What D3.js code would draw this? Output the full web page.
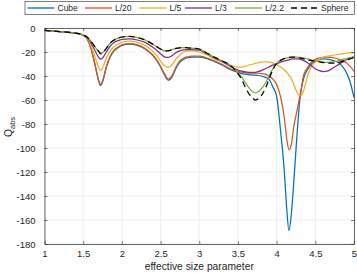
<!DOCTYPE html>
<html><head><meta charset="utf-8">
<script src="https://cdn.jsdelivr.net/npm/d3@7"></script>
<style>body{margin:0;background:#fff}svg{display:block}text{font-family:"Liberation Sans",Arial,sans-serif}</style>
</head><body><svg id="c" width="357" height="273"></svg>
<script>
const xs=[1.0,1.1,1.2,1.3,1.4, 1.5,1.55,1.6,1.65,1.7, 1.725,1.75,1.8,1.85,1.9, 1.95,2.0,2.1,2.2,2.3, 2.4,2.45,2.5,2.55,2.6, 2.65,2.7,2.75,2.8,2.85, 2.9,3.0,3.1,3.2,3.3, 3.4,3.5,3.55,3.6,3.65, 3.7,3.725,3.75,3.8,3.85, 3.9,3.95,4.0,4.05,4.1, 4.13,4.16,4.19,4.22,4.26, 4.3,4.325,4.35,4.4,4.45, 4.5,4.55,4.6,4.65,4.7, 4.75,4.8,4.85,4.9,4.95, 5.0];
const cube=[-2,-2.5,-3,-3.5,-4.3, -6,-9,-17,-30,-44, -48,-45,-33,-24,-19, -16.5,-14.5,-13.5,-14.5,-17.5, -23,-27,-32.5,-39,-43.5, -40.5,-33.5,-28.5,-26,-24.8, -24.3,-24.3,-25.5,-28,-31, -34.5,-37,-38,-38.5,-39, -39.2,-39.3,-39.5,-40,-41, -42.5,-49,-57,-85,-120, -150,-169,-155,-130,-92, -60,-49,-42,-34.5,-30, -27.5,-26.3,-25.8,-26,-26.5, -27.5,-29,-32,-37,-45, -58];
const l20=[-2,-2.5,-3,-3.5,-4.3, -6,-9,-16.5,-29.5,-43.5, -47,-44,-32,-23.5,-18.5, -16,-14,-13,-14,-17, -22.5,-26.5,-32,-38,-42.5, -39.5,-32.5,-27.5,-25,-24, -23.5,-23.5,-25,-27.5,-30.5, -34,-36,-36.8,-37.2,-37.5, -37.5,-37.6,-37.7,-38,-38.5, -40,-42.5,-47,-57,-75, -92,-101.5,-97,-83,-70, -57,-48,-39,-33,-28.5, -26,-25,-24.5,-24.3,-24.5, -25,-26,-27,-29,-32, -36];
const l5=[-2,-2.5,-3,-3.5,-4.3, -6,-8.5,-14.5,-23.5,-33, -35.5,-33.5,-25,-19,-15.5, -13.5,-12,-11,-12,-14.5, -19.5,-23,-27.5,-31.5,-32.8, -30.5,-26,-22.5,-20,-19, -19,-20,-22.5,-26,-28.5, -31,-32.5,-32.5,-31.8,-30.8, -30,-29.5,-29,-28.5,-28.2, -28.3,-29,-30.5,-32.5,-35, -37,-39.5,-42,-47,-53, -56.5,-56,-52,-40,-32, -28.5,-26,-24.5,-23.5,-23, -22.5,-22,-21.5,-21,-20.7, -20.5];
const l3=[-2,-2.5,-3,-3.5,-4.3, -6,-8,-12.5,-18.5,-24.5, -26,-25,-20,-15,-12, -10.5,-9.5,-9,-10,-12, -16,-18.5,-21.5,-24,-24.5, -23,-20.5,-19,-18.3,-18, -18,-18.5,-21.5,-25,-28, -32,-35,-36,-36.5,-37, -37,-37,-36.5,-35.5,-34, -32.5,-31,-30,-28.5,-27.5, -27,-26.5,-26,-25.8,-25.8, -26,-26.5,-27.2,-29,-31.5, -34,-35.5,-36.3,-36,-34.5, -32.5,-30.5,-28.5,-26.5,-25, -24];
const l22=[-2,-2.5,-3,-3.5,-4.3, -5.8,-7.5,-11,-15.5,-19.5, -21,-20.5,-16.5,-12.5,-10, -8.5,-7.5,-7,-8,-10, -13.5,-15.5,-17.5,-19,-18.8, -18,-17,-16.5,-16.3,-16.5, -16.8,-17.5,-21,-24.5,-27.5, -31,-37,-41,-46,-50.5, -53.5,-54,-53.5,-51,-46.5, -40,-34,-29.5,-27,-25.5, -25,-24.6,-24.4,-24.3,-24.3, -24.5,-24.7,-25,-25.7,-26.5, -27.2,-27.8,-28.3,-28.6,-28.5, -28,-27.2,-26.3,-25.5,-24.7, -24];
const sphere=[-2,-2.5,-3,-3.5,-4.3, -5.8,-7.5,-11,-15.5,-19.5, -21.5,-21,-17,-12.5,-10, -8.5,-7.5,-7,-8,-10, -13.5,-15.5,-17.5,-19,-19, -18,-17,-16.5,-16.3,-16.5, -16.8,-17.5,-21,-24.5,-27.5, -31,-38,-43,-50,-55.5, -59,-60,-59.5,-56.5,-51, -43,-35,-29.5,-27,-25.5, -25,-24.5,-24.3,-24.3,-24.5, -25,-25.3,-25.7,-26.5,-27.2, -27.8,-28.3,-28.8,-29.2,-29.3, -29.2,-28.7,-27.8,-26.8,-25.7, -24.5];
const seriesNames=["Cube","L/20","L/5","L/3","L/2.2","Sphere"];
const seriesValues=[cube,l20,l5,l3,l22,sphere];
const seriesColors=["#0072BD","#D95319","#EDB120","#7E2F8E","#77AC30","#000000"];
const xTicks=[1,1.5,2,2.5,3,3.5,4,4.5,5];
const xTickLabels=["1","1.5","2","2.5","3","3.5","4","4.5","5"];
const yTicks=[0,-20,-40,-60,-80,-100,-120,-140,-160,-180];
const yTickLabels=["0","-20","-40","-60","-80","-100","-120","-140","-160","-180"];

const m={l:44.5,r:354,t:28,b:244};
const svg=d3.select("#c");
svg.append("rect").attr("width",357).attr("height",273).attr("fill","#fff");
const x=d3.scaleLinear().domain([1,5]).range([m.l,m.r]);
const y=d3.scaleLinear().domain([-180,0]).range([m.b,m.t]);
const axC="#262626", gridC="#e6e6e6";

// grid
svg.append("g").selectAll("line").data(xTicks).join("line")
  .attr("x1",d=>x(d)).attr("x2",d=>x(d)).attr("y1",m.t).attr("y2",m.b)
  .attr("stroke",gridC).attr("stroke-width",0.6);
svg.append("g").selectAll("line").data(yTicks).join("line")
  .attr("y1",d=>y(d)).attr("y2",d=>y(d)).attr("x1",m.l).attr("x2",m.r)
  .attr("stroke",gridC).attr("stroke-width",0.6);

// lines
svg.append("clipPath").attr("id","clip").append("rect")
  .attr("x",m.l).attr("y",m.t).attr("width",m.r-m.l).attr("height",m.b-m.t);
const line=d3.line().x((d,i)=>x(xs[i])).y(d=>y(d)).curve(d3.curveMonotoneX);
const gl=svg.append("g").attr("clip-path","url(#clip)");
seriesValues.forEach((vals,k)=>{
  gl.append("path").attr("d",line(vals)).attr("fill","none")
    .attr("stroke",seriesColors[k]).attr("stroke-width",1.25)
    .attr("stroke-dasharray",k===5?"6,4":null);
});

// axes
function style(g){g.selectAll(".domain").attr("stroke",axC).attr("stroke-width",0.7);
  g.selectAll(".tick line").attr("stroke",axC).attr("stroke-width",0.6);
  g.selectAll("text").attr("fill",axC).style("font-family",'"Liberation Sans",Arial,sans-serif').style("font-size","9.5px");}
svg.append("g").attr("transform",`translate(0,${m.b})`)
  .call(d3.axisBottom(x).tickValues(xTicks).tickFormat((d,i)=>xTickLabels[i]).tickSizeInner(-3).tickSizeOuter(0).tickPadding(6.5)).call(style);
svg.append("g").attr("transform",`translate(0,${m.t})`)
  .call(d3.axisTop(x).tickValues(xTicks).tickFormat("").tickSizeInner(-3).tickSizeOuter(0)).call(style);
svg.append("g").attr("transform",`translate(${m.l},0)`)
  .call(d3.axisLeft(y).tickValues(yTicks).tickFormat((d,i)=>yTickLabels[i]).tickSizeInner(-3).tickSizeOuter(0).tickPadding(9)).call(style);
svg.append("g").attr("transform",`translate(${m.r},0)`)
  .call(d3.axisRight(y).tickValues(yTicks).tickFormat("").tickSizeInner(-3).tickSizeOuter(0)).call(style);

// labels
svg.append("text").attr("x",(m.l+m.r)/2).attr("y",269.5).attr("text-anchor","middle")
  .attr("fill",axC).style("font-size","10.3px").text("effective size parameter");
const yl=svg.append("text").attr("transform","translate(12,127) rotate(-90)").attr("text-anchor","middle")
  .attr("fill",axC).style("font-size","10.3px");
yl.append("tspan").text("Q");
yl.append("tspan").attr("dy",2.5).style("font-size","7.5px").text("abs");

// legend
const legendStart=[27.5,85,139.5,185,235,291];
const lg=svg.append("g");
lg.append("rect").attr("x",25).attr("y",1.5).attr("width",329.5).attr("height",13).attr("fill","#fff")
  .attr("stroke",axC).attr("stroke-width",0.6);
seriesNames.forEach((nm,k)=>{
  const cx=legendStart[k];
  lg.append("line").attr("x1",cx).attr("x2",cx+27).attr("y1",8).attr("y2",8)
    .attr("stroke",seriesColors[k]).attr("stroke-width",1.3).attr("stroke-dasharray",k===5?"6,4":null);
  lg.append("text").attr("x",cx+30).attr("y",11).attr("fill",axC).style("font-size","8.5px").text(nm);
});
</script></body></html>
